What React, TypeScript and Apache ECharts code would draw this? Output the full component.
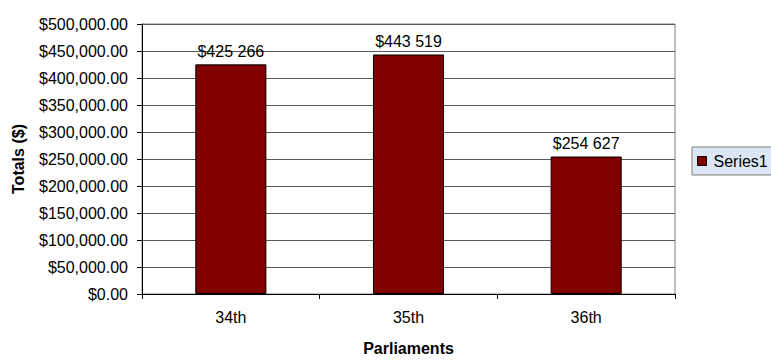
import React, { useEffect, useRef } from "react";
import * as echarts from "echarts";

const categories = ["34th", "35th", "36th"];
const seriesName = "Series1";
const values = [425266, 443519, 254627];
const yMin = 0;
const yMax = 500000;
const yInterval = 50000;

const FONT = "'Liberation Sans', Arial, sans-serif";

function fmtAxis(v: number): string {
  return "$" + v.toLocaleString("en-US", { minimumFractionDigits: 2, maximumFractionDigits: 2 });
}
function fmtLabel(v: number): string {
  return "$" + Math.round(v).toString().replace(/\B(?=(\d{3})+(?!\d))/g, " ");
}

export default function App() {
  const ref = useRef<HTMLDivElement>(null);
  useEffect(() => {
    if (!ref.current) return;
    const chart = echarts.init(ref.current, undefined, { renderer: "svg" });
    chart.setOption({
      animation: false,
      backgroundColor: "#ffffff",
      textStyle: { fontFamily: FONT },
      grid: {
        left: 142,
        right: 96,
        top: 24,
        bottom: 61,
        show: true,
        borderColor: "#808080",
        borderWidth: 1,
        backgroundColor: "transparent",
      },
      legend: {
        show: true,
        data: [seriesName],
        left: 692,
        top: 147,
        orient: "vertical",
        icon: "rect",
        itemWidth: 9,
        itemHeight: 9,
        padding: [6, 30, 6, 5],
        backgroundColor: "#dce6f4",
        borderColor: "#808080",
        borderWidth: 1,
        borderRadius: 0,
        itemStyle: { borderColor: "#000000", borderWidth: 1 },
        textStyle: { fontSize: 16, color: "#000000", fontFamily: FONT, padding: [0, 0, 0, 2] },
      },
      xAxis: {
        type: "category",
        data: categories,
        name: "Parliaments",
        nameLocation: "middle",
        nameGap: 46,
        nameTextStyle: { fontSize: 16, fontWeight: "bold", color: "#000000", fontFamily: FONT },
        axisLine: { show: true, lineStyle: { color: "#000000", width: 1 } },
        axisTick: { show: true, alignWithLabel: false, length: 5, lineStyle: { color: "#000000" } },
        axisLabel: { fontSize: 16, color: "#000000", margin: 15, fontFamily: FONT },
        splitLine: { show: false },
      },
      yAxis: {
        type: "value",
        min: yMin,
        max: yMax,
        interval: yInterval,
        name: "Totals ($)",
        nameLocation: "middle",
        nameGap: 116,
        nameRotate: 90,
        nameTextStyle: { fontSize: 16, fontWeight: "bold", color: "#000000", fontFamily: FONT },
        axisLine: { show: true, lineStyle: { color: "#000000", width: 1 } },
        axisTick: { show: true, length: 5, lineStyle: { color: "#000000" } },
        axisLabel: { fontSize: 16, color: "#000000", margin: 14, fontFamily: FONT, formatter: (v: number) => fmtAxis(v) },
        splitLine: { show: true, lineStyle: { color: "#5a5a5a", width: 1 } },
      },
      series: [
        {
          name: seriesName,
          type: "bar",
          data: values,
          barWidth: "40%",
          itemStyle: { color: "#800000", borderColor: "#000000", borderWidth: 1 },
          label: {
            show: true,
            position: "top",
            distance: 5,
            fontSize: 16,
            color: "#000000",
            fontFamily: FONT,
            formatter: (p: any) => fmtLabel(p.value),
          },
        },
      ],
    });
    return () => chart.dispose();
  }, []);
  return (
    <div
      ref={ref}
      style={{ position: "absolute", left: 0, top: 0, width: 771, height: 361 }}
    />
  );
}
